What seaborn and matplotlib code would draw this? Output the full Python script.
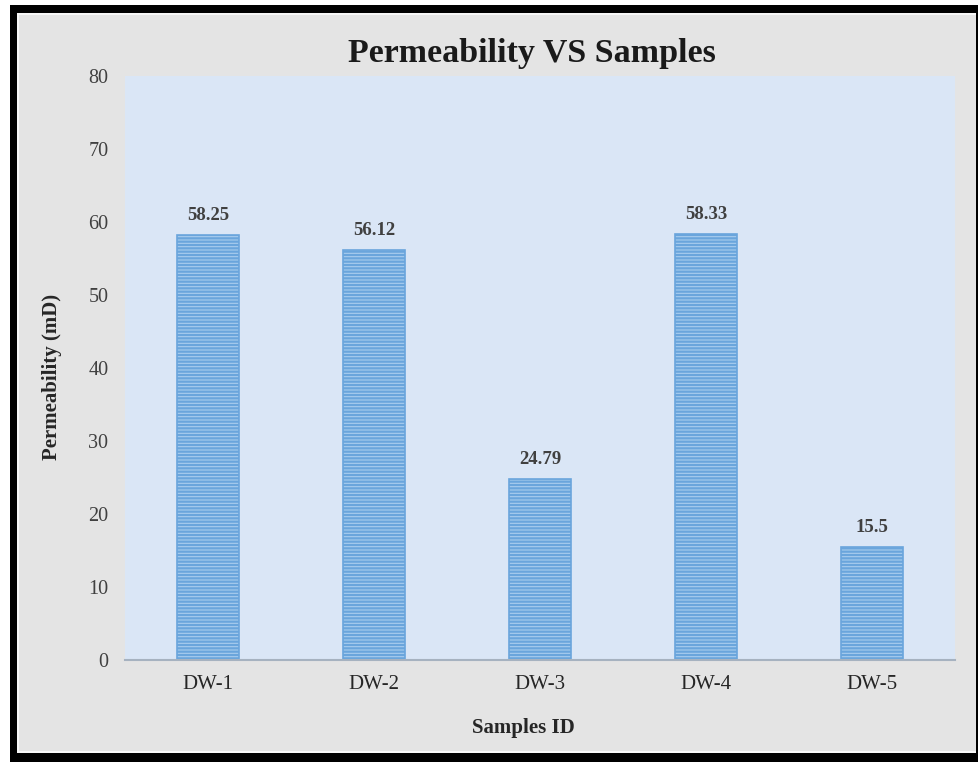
import matplotlib
matplotlib.use("Agg")
import matplotlib.pyplot as plt
import seaborn as sns
import pandas as pd
from matplotlib.patches import Rectangle

samples = ["DW-1", "DW-2", "DW-3", "DW-4", "DW-5"]
permeability = [58.25, 56.12, 24.79, 58.33, 15.5]
value_labels = ["58.25", "56.12", "24.79", "58.33", "15.5"]
y_ticks = [0, 10, 20, 30, 40, 50, 60, 70, 80]

df = pd.DataFrame({"Sample": samples, "Permeability": permeability})

sns.set_theme(style="white")
plt.rcParams["font.family"] = ["Liberation Serif", "DejaVu Serif"]
plt.rcParams["hatch.linewidth"] = 1.6
plt.rcParams["hatch.color"] = "#5b9bd5"

W, H = 979, 762
fig = plt.figure(figsize=(W / 100, H / 100), dpi=100)
fig.patch.set_facecolor("#e4e4e4")
ax = fig.add_axes([0.1277, 0.134, 0.848, 0.766])
ax.set_facecolor("#dae6f6")

sns.barplot(data=df, x="Sample", y="Permeability", ax=ax, color="#a9cdee",
            width=0.375, saturation=1, edgecolor="#6aa5dc", linewidth=1.2)
for p in ax.patches:
    p.set_hatch("-----")

for p, lab in zip(ax.patches, value_labels):
    ax.annotate(lab, (p.get_x() + p.get_width() / 2, p.get_height()),
                xytext=(0, 8), textcoords="offset points", ha="center", va="bottom",
                fontsize=13.5, fontweight="bold", color="#404040")

ax.set_ylim(0, 80)
ax.set_yticks(y_ticks)
ax.set_yticklabels([str(t) for t in y_ticks], fontsize=14.5, color="#404040")
ax.tick_params(axis="x", labelsize=15, labelcolor="#262626", length=0, pad=11)
ax.tick_params(axis="y", length=0, pad=12)
for s in ["top", "right", "left"]:
    ax.spines[s].set_visible(False)
ax.spines["bottom"].set_color("#a6b2c0")
ax.spines["bottom"].set_linewidth(1.5)

ax.set_xlabel("Samples ID", fontsize=15, fontweight="bold", color="#262626", labelpad=17)
ax.set_ylabel("Permeability (mD)", fontsize=15, fontweight="bold", color="#262626", labelpad=19)
ax.xaxis.label.set_x(0.48)
ax.yaxis.label.set_y(0.485)
fig.text(532 / W, 1 - 62 / H, "Permeability VS Samples", ha="center", va="baseline",
         fontsize=24.5, fontweight="bold", color="#1a1a1a")

def frame_rect(x0, y0, w, h, color):
    # pixel coordinates measured from top-left
    fig.patches.append(Rectangle((x0 / W, 1 - (y0 + h) / H), w / W, h / H,
                                 transform=fig.transFigure, color=color, zorder=10, lw=0))

# white margin outside the frame
frame_rect(0, 0, 10, H, "white")
frame_rect(0, 0, W, 5, "white")
# black frame
frame_rect(10, 5, 7, H - 5, "black")
frame_rect(10, 5, W - 10, 8, "black")
frame_rect(W - 3, 5, 3, H - 5, "black")
frame_rect(10, H - 9, W - 10, 9, "black")
# thin white inner line
frame_rect(17, 13, 2, H - 22, "#f7f7f7")
frame_rect(17, 13, W - 20, 2, "#f7f7f7")
frame_rect(17, H - 11, W - 20, 2, "#f7f7f7")

fig.savefig("out.png", dpi=100, facecolor=fig.get_facecolor())
